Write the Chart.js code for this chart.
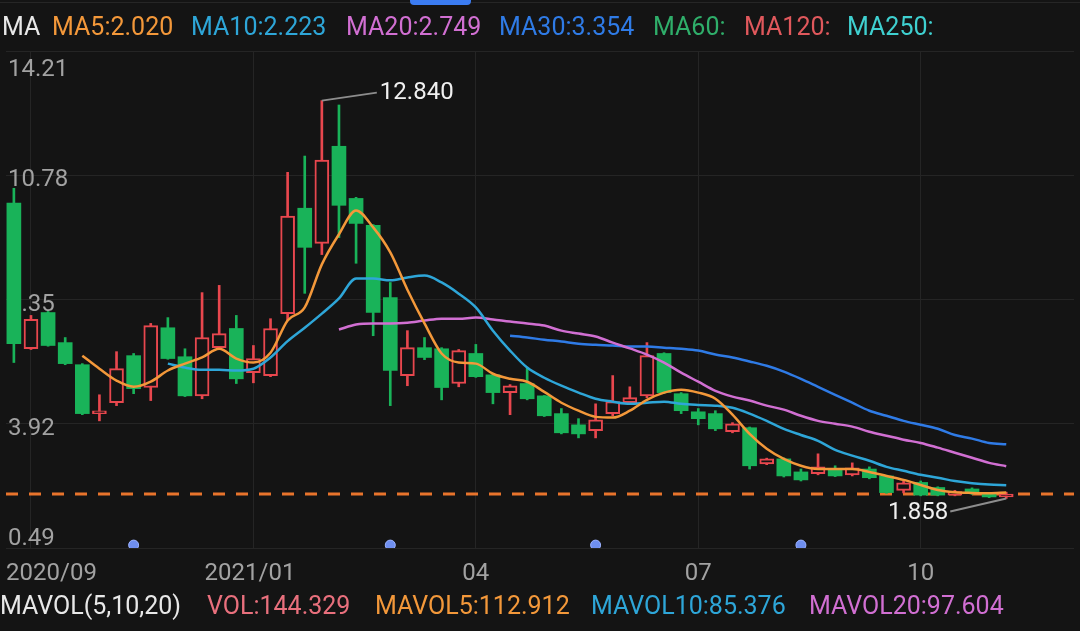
<!DOCTYPE html>
<html>
<head>
<meta charset="utf-8">
<title>MA</title>
<script src="https://cdn.jsdelivr.net/npm/chart.js@4.4.1/dist/chart.umd.min.js"></script>
<style>
  html, body { margin: 0; padding: 0; background: #141414; }
  #wrap { position: relative; width: 1080px; height: 631px; overflow: hidden;
          font-family: Roboto, "Liberation Sans", sans-serif; }
  #chart-box { position: absolute; left: 0; top: 0; width: 1080px; height: 631px; }
  .legend span { position: absolute; font-size: 25px; line-height: 30px; white-space: nowrap; }
  #top-line { position: absolute; left: 0; top: 2px; width: 1080px; height: 1px; background: #262626; }
  #scroll-tab { position: absolute; left: 410px; top: -4px; width: 61px; height: 9px;
                border-radius: 4px; background: #3b7cf2; }
</style>
</head>
<body>
<div id="wrap">
  <div id="chart-box"><canvas id="kline"></canvas></div>
  <div id="top-line"></div>
  <div id="scroll-tab"></div>
  <div class="legend" id="ma-legend"></div>
  <div class="legend" id="vol-legend"></div>
</div>
<script>
// weekly candles, 2020/09 -> 2021/11
const opens  = [10.01, 5.99, 6.99, 6.16, 5.55, 4.20, 4.50, 5.80, 4.92, 6.57,
                5.77, 4.69, 6.02, 6.55, 5.33, 5.25, 6.96, 9.87, 8.90, 11.58,
                10.14, 9.40, 7.40, 5.25, 6.02, 5.99, 5.03, 5.86, 5.27, 4.78,
                5.03, 4.69, 4.20, 3.89, 3.73, 4.20, 4.50, 4.69, 5.86, 4.75,
                4.25, 4.20, 3.70, 3.81, 2.81, 2.95, 2.59, 2.54, 2.67, 2.51,
                2.67, 2.48, 2.08, 2.30, 2.16, 1.95, 2.12, 1.99, 1.90];
const highs  = [10.42, 6.91, 7.02, 6.30, 5.58, 4.72, 5.91, 5.86, 6.69, 6.85,
                5.99, 7.54, 7.74, 6.91, 6.08, 6.82, 10.86, 11.31, 12.84, 12.72,
                10.17, 9.42, 7.82, 6.49, 6.30, 6.02, 5.97, 6.11, 5.30, 5.00,
                5.47, 4.70, 4.34, 4.06, 4.47, 5.25, 4.94, 6.16, 5.88, 4.78,
                4.34, 4.28, 3.95, 3.83, 2.97, 2.98, 2.67, 3.09, 2.76, 2.84,
                2.73, 2.50, 2.35, 2.34, 2.18, 2.08, 2.15, 2.02, 2.03];
const lows   = [5.61, 5.97, 6.06, 5.55, 4.17, 4.00, 4.42, 4.75, 4.56, 5.70,
                4.67, 4.61, 5.99, 5.03, 5.05, 5.22, 6.77, 7.52, 8.59, 9.06,
                8.35, 6.35, 4.42, 4.97, 5.69, 4.58, 4.94, 5.20, 4.47, 4.17,
                4.58, 4.12, 3.64, 3.53, 3.53, 4.14, 4.48, 4.64, 4.75, 4.20,
                3.89, 3.73, 3.67, 2.67, 2.79, 2.45, 2.34, 2.51, 2.46, 2.48,
                2.40, 2.00, 2.01, 1.93, 1.93, 1.93, 1.97, 1.88, 1.858];
const closes = [6.13, 6.80, 6.08, 5.58, 4.20, 4.28, 5.44, 4.89, 6.63, 5.72,
                4.69, 6.30, 6.41, 5.16, 5.72, 6.55, 9.65, 8.79, 11.20, 9.95,
                9.45, 6.99, 5.39, 6.02, 5.75, 4.92, 5.94, 5.22, 4.78, 4.97,
                4.61, 4.14, 3.67, 3.64, 4.03, 4.53, 4.64, 5.80, 4.78, 4.28,
                4.06, 3.78, 3.92, 2.76, 2.95, 2.48, 2.37, 2.73, 2.48, 2.70,
                2.43, 2.02, 2.29, 1.95, 1.95, 2.05, 1.99, 1.90, 1.98];

// moving averages; each starts at its own week
const ma5Start = 4;
const ma5  = [5.80, 5.44, 5.11, 4.94, 5.08, 5.39, 5.58, 5.75, 5.99, 5.72, 5.61, 5.88,
              6.77, 7.13, 8.32, 9.15, 9.81, 9.34, 8.65, 7.62, 6.69, 5.86, 5.61, 5.58,
              5.30, 5.16, 5.08, 4.80, 4.50, 4.28, 4.11, 4.09, 4.28, 4.58, 4.78, 4.86,
              4.78, 4.61, 4.17, 3.64, 3.23, 2.95, 2.76, 2.67, 2.67, 2.67, 2.59, 2.48,
              2.37, 2.23, 2.09, 2.03, 2.01, 2.00, 2.020];
const ma10Start = 9;
const ma10 = [5.58, 5.47, 5.41, 5.41, 5.39, 5.44, 5.75, 6.20, 6.57, 6.96,
              7.38, 7.93, 7.93, 7.88, 7.96, 8.01, 7.82, 7.51, 7.13, 6.49,
              5.94, 5.47, 5.19, 4.97, 4.78, 4.61, 4.53, 4.47, 4.50, 4.53,
              4.47, 4.44, 4.42, 4.36, 4.20, 4.00, 3.78, 3.61, 3.45, 3.20,
              3.04, 2.90, 2.73, 2.62, 2.51, 2.43, 2.34, 2.28, 2.24, 2.223];
const ma20Start = 19;
const ma20 = [6.52, 6.66, 6.69, 6.69, 6.71, 6.77, 6.82, 6.82, 6.85, 6.80,
              6.74, 6.69, 6.63, 6.49, 6.41, 6.33, 6.16, 6.00, 5.83, 5.61,
              5.33, 5.08, 4.83, 4.67, 4.56, 4.42, 4.31, 4.14, 4.00, 3.92,
              3.84, 3.70, 3.59, 3.48, 3.39, 3.26, 3.12, 2.98, 2.84, 2.749];
const ma30Start = 29;
const ma30 = [6.35, 6.30, 6.24, 6.19, 6.13, 6.10, 6.08, 6.05, 6.05, 6.02,
              5.99, 5.94, 5.83, 5.75, 5.64, 5.52, 5.36, 5.16, 4.94, 4.72,
              4.50, 4.28, 4.14, 4.00, 3.89, 3.78, 3.61, 3.51, 3.39, 3.354];

const yTicks = [0.49, 3.92, 7.35, 10.78, 14.21];
const gridWeeks = [1, 14, 27, 40, 53];
const labelWeeks = [2.2, 13.8, 27, 40, 53];
const xTickLabels = ["2020/09", "2021/01", "04", "07", "10"];
const markerWeeks = [7, 22, 34, 46];
const markerLevel = 0.57;

const vol = 144.329, mavol5 = 112.912, mavol10 = 85.376, mavol20 = 97.604;

const BG = "#141414";
const GRID = "#252525";
const UP = "#e8474e";
const DOWN = "#19b359";
const AXIS_TEXT = "#a2a2a2";
const C_MA5 = "#f3983a", C_MA10 = "#2ea6d8", C_MA20 = "#d16fd2", C_MA30 = "#2f7be6";

const isUp = i => closes[i] >= opens[i];
const series = (vals, start) => vals.map((v, k) => ({ x: k + start, y: v }));

// legends (plain html text)
function fillLegend(id, top, items) {
    const box = document.getElementById(id);
    items.forEach(([text, colour, left]) => {
        const s = document.createElement("span");
        s.textContent = text;
        s.style.color = colour;
        s.style.left = left + "px";
        s.style.top = top + "px";
        box.appendChild(s);
    });
}
const last = a => a[a.length - 1].toFixed(3);
fillLegend("ma-legend", 12, [
    ["MA", "#e8e8e8", 2],
    ["MA5:" + last(ma5), C_MA5, 52],
    ["MA10:" + last(ma10), C_MA10, 191],
    ["MA20:" + last(ma20), C_MA20, 346],
    ["MA30:" + last(ma30), C_MA30, 499],
    ["MA60:", "#2fae6a", 653],
    ["MA120:", "#e0585c", 744],
    ["MA250:", "#3fd0d0", 847]
]);
fillLegend("vol-legend", 591, [
    ["MAVOL(5,10,20)", "#e8e8e8", 0],
    ["VOL:" + vol.toFixed(3), "#e9707d", 207],
    ["MAVOL5:" + mavol5.toFixed(3), C_MA5, 375],
    ["MAVOL10:" + mavol10.toFixed(3), C_MA10, 591],
    ["MAVOL20:" + mavol20.toFixed(3), C_MA20, 809]
]);

// dashed last-close line + max / min call-outs
const klineExtras = {
    id: "klineExtras",
    beforeDatasetsDraw(chart) {
        const { ctx, chartArea, scales } = chart;
        const y = scales.y.getPixelForValue(closes[closes.length - 1]);
        ctx.save();
        ctx.strokeStyle = "#e8742c";
        ctx.lineWidth = 3;
        ctx.setLineDash([12, 11]);
        ctx.beginPath();
        ctx.moveTo(chartArea.left, y);
        ctx.lineTo(chartArea.right, y);
        ctx.stroke();
        ctx.restore();
    },
    afterDatasetsDraw(chart) {
        const { ctx, scales } = chart;
        const hiIdx = highs.indexOf(Math.max(...highs));
        const loIdx = lows.indexOf(Math.min(...lows));
        const hx = scales.x.getPixelForValue(hiIdx), hy = scales.y.getPixelForValue(highs[hiIdx]);
        const lx = scales.x.getPixelForValue(loIdx), ly = scales.y.getPixelForValue(lows[loIdx]);
        ctx.save();
        ctx.strokeStyle = "#8d8d8d";
        ctx.lineWidth = 2;
        ctx.beginPath();
        ctx.moveTo(hx, hy); ctx.lineTo(hx + 55, hy - 8);
        ctx.moveTo(lx, ly); ctx.lineTo(lx - 56, ly + 13);
        ctx.stroke();
        ctx.fillStyle = "#f0f0f0";
        ctx.font = "24px Roboto, 'Liberation Sans', sans-serif";
        ctx.textBaseline = "middle";
        ctx.textAlign = "left";
        ctx.fillText(highs[hiIdx].toFixed(3), hx + 58, hy - 8);
        ctx.textAlign = "right";
        ctx.fillText(lows[loIdx].toFixed(3), lx - 58, ly + 15);
        ctx.restore();
    }
};

const xMin = -0.46, xMax = 61.96;
const noOverhang = s => { s.paddingLeft = 0; s.paddingRight = 0; s.paddingTop = 0; s.paddingBottom = 0; };
const maLine = (label, vals, start, colour) => ({
    type: "line", label, data: series(vals, start),
    borderColor: colour, borderWidth: 2.5, pointRadius: 0,
    cubicInterpolationMode: "monotone", order: 0
});

new Chart(document.getElementById("kline"), {
    type: "bar",
    data: {
        datasets: [
            maLine("MA5", ma5, ma5Start, C_MA5),
            maLine("MA10", ma10, ma10Start, C_MA10),
            maLine("MA20", ma20, ma20Start, C_MA20),
            maLine("MA30", ma30, ma30Start, C_MA30),
            {
                type: "line", label: "events",
                data: markerWeeks.map(w => ({ x: w, y: markerLevel })),
                showLine: false, pointRadius: 5, pointBackgroundColor: "#6f8ff0",
                pointBorderColor: "#9db3ff", pointBorderWidth: 1, order: 0
            },
            {
                label: "body",
                data: opens.map((o, i) => ({ x: i, y: [Math.min(o, closes[i]), Math.max(o, closes[i])] })),
                backgroundColor: opens.map((_, i) => isUp(i) ? BG : DOWN),
                borderColor: opens.map((_, i) => isUp(i) ? UP : DOWN),
                borderWidth: opens.map((_, i) => isUp(i) ? 2 : 0),
                borderSkipped: false,
                barThickness: 14,
                minBarLength: 2,
                grouped: false,
                order: 1
            },
            {
                label: "wick",
                data: highs.map((h, i) => ({ x: i, y: [lows[i], h] })),
                backgroundColor: highs.map((_, i) => isUp(i) ? UP : DOWN),
                borderWidth: 0,
                barThickness: 2,
                grouped: false,
                order: 2
            }
        ]
    },
    options: {
        responsive: true,
        maintainAspectRatio: false,
        animation: false,
        layout: { padding: { top: 51, left: 0, right: 0, bottom: 0 } },
        plugins: {
            legend: { display: false },
            tooltip: { enabled: false }
        },
        scales: {
            x: {
                type: "linear", min: xMin, max: xMax, bounds: "data",
                offset: false, position: "bottom",
                grid: { color: GRID, lineWidth: 1, drawTicks: false, offset: false },
                border: { display: false },
                ticks: { display: false },
                afterBuildTicks: s => { s.ticks = gridWeeks.map(v => ({ value: v })); },
                afterFit: s => { s.height = 0; noOverhang(s); }
            },
            xl: {
                type: "linear", min: xMin, max: xMax, bounds: "data",
                offset: false, position: "bottom",
                grid: { display: false, offset: false },
                border: { display: false },
                ticks: {
                    color: AXIS_TEXT,
                    font: { size: 24, family: "Roboto, 'Liberation Sans', sans-serif" },
                    padding: 4,
                    maxRotation: 0,
                    autoSkip: false,
                    callback: (v, i) => xTickLabels[i]
                },
                afterBuildTicks: s => { s.ticks = labelWeeks.map(v => ({ value: v })); },
                afterFit: s => { s.height = 83; noOverhang(s); }
            },
            y: {
                type: "linear", min: 0.49, max: 14.21, bounds: "data",
                position: "left",
                grid: { color: GRID, lineWidth: 1, drawTicks: false },
                border: { display: false },
                ticks: {
                    mirror: true,
                    padding: 2,
                    labelOffset: 5,
                    color: AXIS_TEXT,
                    font: { size: 24, family: "Roboto, 'Liberation Sans', sans-serif" },
                    callback: (v, i, t) => {
                        const s = Number(v).toFixed(2);
                        if (i === t.length - 1) return ["", s];
                        if (i === 0) return [s, ""];
                        return s;
                    }
                },
                afterBuildTicks: s => { s.ticks = yTicks.map(v => ({ value: v })); },
                afterFit: s => { s.width = 0; noOverhang(s); }
            }
        }
    },
    plugins: [klineExtras]
});
</script>
</body>
</html>
